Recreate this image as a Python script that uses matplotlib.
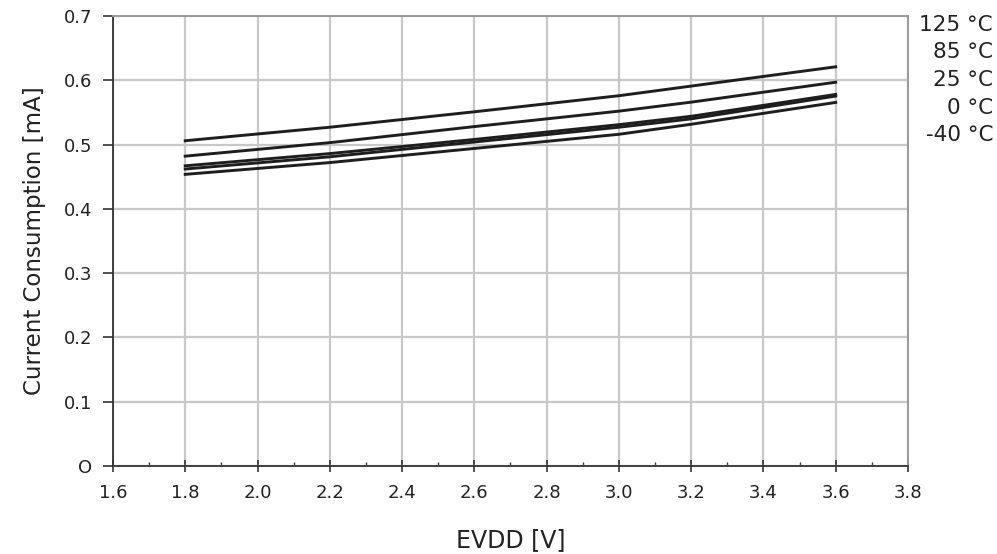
import matplotlib.pyplot as plt
from matplotlib.ticker import MultipleLocator

plt.rcParams['font.family'] = ['DejaVu Sans']

# supply voltage points (V)
evdd = [1.8, 2.2, 2.6, 3.0, 3.2, 3.6]

# current consumption (mA) per temperature
i_125 = [0.506, 0.527, 0.551, 0.576, 0.591, 0.621]
i_85 = [0.482, 0.503, 0.528, 0.552, 0.566, 0.597]
i_25 = [0.467, 0.486, 0.508, 0.531, 0.544, 0.578]
i_0 = [0.462, 0.481, 0.504, 0.527, 0.540, 0.5755]
i_m40 = [0.4537, 0.472, 0.494, 0.516, 0.5316, 0.5656]

temp_labels = ['125 °C', '85 °C', '25 °C', '0 °C', '-40 °C']
x_ticks = ['1.6', '1.8', '2.0', '2.2', '2.4', '2.6', '2.8', '3.0', '3.2', '3.4', '3.6', '3.8']
y_ticks = ['O', '0.1', '0.2', '0.3', '0.4', '0.5', '0.6', '0.7']

fig = plt.figure(figsize=(9.97, 5.54), dpi=100)
ax = fig.add_axes([0.1133, 0.1588, 0.7974, 0.8123])

for serie in [i_125, i_85, i_25, i_0, i_m40]:
    ax.plot(evdd, serie, color='#1e1e1e', lw=2.1, zorder=3)

ax.set_xlim(1.6, 3.8)
ax.set_ylim(0, 0.7)
ax.xaxis.set_minor_locator(MultipleLocator(0.1))
ax.set_xticks([1.6 + 0.2 * k for k in range(len(x_ticks))])
ax.set_xticklabels(x_ticks)
ax.set_yticks([0.1 * k for k in range(len(y_ticks))])
ax.set_yticklabels(y_ticks)

ax.grid(True, which='major', color='#c8c8c8', lw=1.6, zorder=0)
ax.tick_params(axis='both', which='major', labelsize=13, color='#333333', width=1.2,
               labelcolor='#222222')
ax.tick_params(axis='x', which='major', direction='inout', length=8, pad=9)
ax.tick_params(axis='x', which='minor', direction='in', length=3, width=1.0, color='#333333')
ax.tick_params(axis='y', which='major', direction='out', length=7, pad=8)

for side in ['left', 'bottom']:
    ax.spines[side].set_color('#333333')
    ax.spines[side].set_linewidth(1.3)
for side in ['top', 'right']:
    ax.spines[side].set_color('#999999')
    ax.spines[side].set_linewidth(1.4)

ax.set_xlabel('EVDD [V]', fontsize=17, labelpad=19, color='#222222')
ax.set_ylabel('Current Consumption [mA]', fontsize=16.5, labelpad=13, color='#222222')

for k, lab in enumerate(temp_labels):
    fig.text(0.996, 1 - (25 + 27.5 * k) / 554, lab, ha='right', va='center',
             fontsize=15.5, color='#222222')

fig.savefig('out.png', dpi=100)
